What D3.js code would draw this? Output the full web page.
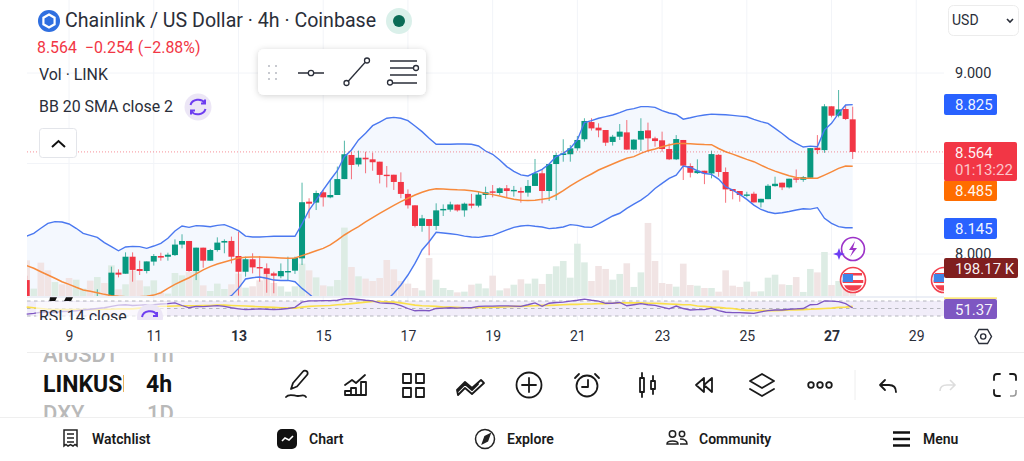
<!DOCTYPE html>
<html><head><meta charset="utf-8"><title>Chainlink / US Dollar</title>
<script src="https://d3js.org/d3.v7.min.js"></script>
<style>html,body{margin:0;padding:0;background:#fff;overflow:hidden}svg{display:block}text{font-family:Roboto,sans-serif}</style>
</head><body><svg id="c" width="1024" height="461"></svg>
<script>
const opens=[7.856,7.60,7.65,7.58,7.53,7.57,7.52,7.48,7.54,7.60,7.55,7.66,
7.64,7.897,7.891,7.985,7.917,7.906,7.958,7.989,7.985,7.994,8.052,8.072,7.906,8.035,7.963,8.022,8.063,8.072,7.989,7.902,7.971,7.928,7.921,7.893,7.877,7.904,7.908,7.976,8.289,8.284,8.341,8.313,8.326,8.414,8.547,8.495,8.532,8.523,8.510,8.438,8.438,8.398,8.332,8.269,8.155,8.193,8.155,8.241,8.245,8.273,8.241,8.278,8.267,8.326,8.346,8.337,8.363,8.352,8.348,8.339,8.376,8.446,8.348,8.497,8.547,8.551,8.584,8.634,8.729,8.698,8.685,8.619,8.648,8.672,8.577,8.632,8.683,8.639,8.628,8.580,8.523,8.630,8.486,8.447,8.460,8.445,8.548,8.453,8.359,8.348,8.327,8.333,8.285,8.303,8.375,8.394,8.368,8.418,8.410,8.421,8.587,8.574,8.816,8.764,8.801,8.744];
const highs=[7.88,7.68,7.70,7.62,7.60,7.62,7.58,7.56,7.62,7.66,7.805,7.74,
7.930,7.915,8.009,8.009,7.963,7.959,8.000,8.007,8.007,8.081,8.109,8.072,8.035,8.035,8.028,8.092,8.081,8.096,8.123,7.985,8.004,7.989,7.948,7.902,7.948,7.985,7.985,8.394,8.308,8.350,8.354,8.409,8.483,8.626,8.565,8.571,8.565,8.560,8.510,8.486,8.438,8.451,8.357,8.269,8.216,8.193,8.280,8.274,8.289,8.273,8.284,8.332,8.344,8.372,8.381,8.368,8.381,8.376,8.368,8.409,8.525,8.468,8.497,8.560,8.634,8.602,8.652,8.750,8.750,8.722,8.685,8.658,8.718,8.740,8.634,8.750,8.726,8.648,8.676,8.611,8.657,8.630,8.501,8.523,8.460,8.571,8.552,8.478,8.359,8.348,8.344,8.344,8.305,8.386,8.427,8.394,8.416,8.467,8.431,8.585,8.657,8.828,8.816,8.906,8.823,8.814];
const lows=[7.60,7.58,7.55,7.50,7.50,7.50,7.46,7.46,7.52,7.52,7.52,7.60,
7.62,7.871,7.891,7.847,7.884,7.893,7.936,7.963,7.963,7.989,8.031,7.902,7.856,7.924,7.963,8.013,8.004,7.948,7.770,7.875,7.893,7.847,7.786,7.783,7.866,7.856,7.890,7.939,8.197,8.243,8.262,8.308,8.326,8.413,8.413,8.483,8.446,8.460,8.390,8.368,8.354,8.308,8.251,8.147,8.123,7.993,8.133,8.210,8.234,8.234,8.206,8.252,8.258,8.304,8.313,8.326,8.313,8.317,8.284,8.317,8.376,8.280,8.293,8.298,8.510,8.510,8.571,8.621,8.682,8.645,8.597,8.599,8.630,8.575,8.575,8.569,8.565,8.593,8.565,8.519,8.519,8.409,8.423,8.442,8.386,8.418,8.427,8.283,8.302,8.289,8.313,8.285,8.257,8.303,8.372,8.353,8.362,8.394,8.399,8.421,8.552,8.559,8.755,8.755,8.740,8.525];
const closes=[7.62,7.65,7.58,7.53,7.57,7.52,7.48,7.54,7.60,7.55,7.66,7.64,
7.897,7.886,7.985,7.912,7.906,7.959,7.989,7.980,7.996,8.052,8.072,7.906,8.035,7.963,8.022,8.063,8.072,7.985,7.902,7.971,7.926,7.924,7.890,7.880,7.906,7.906,7.978,8.286,8.278,8.337,8.313,8.326,8.414,8.551,8.492,8.532,8.523,8.507,8.437,8.435,8.398,8.332,8.269,8.155,8.197,8.155,8.241,8.249,8.274,8.241,8.278,8.267,8.328,8.341,8.339,8.363,8.348,8.354,8.339,8.376,8.446,8.348,8.497,8.547,8.556,8.584,8.630,8.735,8.694,8.683,8.615,8.648,8.676,8.577,8.632,8.680,8.639,8.624,8.580,8.523,8.635,8.488,8.449,8.460,8.445,8.552,8.453,8.357,8.348,8.326,8.329,8.285,8.305,8.377,8.388,8.368,8.416,8.416,8.425,8.585,8.574,8.816,8.764,8.799,8.746,8.564];
const bbUpper=[8.099,8.114,8.142,8.169,8.179,8.177,8.166,8.142,8.114,8.103,8.092,8.063,8.041,8.018,8.039,8.042,8.041,8.031,8.044,8.059,8.087,8.127,8.155,8.147,8.157,8.155,8.151,8.158,8.162,8.147,8.129,8.099,8.094,8.094,8.096,8.098,8.098,8.098,8.098,8.166,8.243,8.298,8.354,8.409,8.460,8.538,8.575,8.630,8.667,8.709,8.729,8.750,8.755,8.750,8.737,8.707,8.676,8.639,8.606,8.606,8.606,8.608,8.608,8.606,8.597,8.569,8.551,8.519,8.483,8.457,8.437,8.431,8.449,8.468,8.497,8.538,8.556,8.584,8.630,8.726,8.737,8.750,8.759,8.768,8.781,8.796,8.803,8.814,8.814,8.810,8.792,8.779,8.771,8.745,8.753,8.762,8.768,8.773,8.771,8.769,8.766,8.762,8.758,8.744,8.731,8.722,8.694,8.666,8.635,8.611,8.591,8.596,8.593,8.685,8.722,8.777,8.823,8.825];
const bbBasis=[7.936,7.921,7.902,7.884,7.866,7.847,7.832,7.816,7.801,7.794,7.786,7.777,7.770,7.766,7.764,7.764,7.764,7.766,7.773,7.786,7.810,7.832,7.851,7.869,7.890,7.912,7.930,7.945,7.956,7.967,7.978,7.982,7.983,7.983,7.982,7.980,7.978,7.976,7.978,7.991,8.004,8.018,8.031,8.050,8.077,8.105,8.129,8.151,8.177,8.201,8.225,8.247,8.269,8.289,8.308,8.326,8.341,8.354,8.361,8.359,8.357,8.355,8.354,8.350,8.344,8.335,8.328,8.320,8.311,8.302,8.297,8.295,8.297,8.302,8.308,8.326,8.350,8.376,8.400,8.422,8.442,8.464,8.481,8.497,8.514,8.529,8.538,8.556,8.571,8.580,8.593,8.602,8.611,8.611,8.609,8.607,8.605,8.604,8.583,8.565,8.552,8.537,8.523,8.510,8.491,8.473,8.458,8.445,8.432,8.423,8.419,8.418,8.419,8.436,8.454,8.473,8.486,8.485];
const bbLower=[7.75,7.72,7.66,7.60,7.55,7.52,7.50,7.49,7.49,7.48,7.48,7.49,7.50,7.51,7.49,7.48,7.48,7.50,7.50,7.51,7.53,7.54,7.55,7.58,7.62,7.67,7.71,7.73,7.75,7.770,7.810,7.862,7.869,7.873,7.866,7.856,7.854,7.854,7.847,7.810,7.779,7.746,7.72,7.69,7.66,7.62,7.64,7.66,7.68,7.70,7.72,7.745,7.783,7.829,7.884,7.948,8.022,8.068,8.120,8.116,8.112,8.107,8.099,8.094,8.092,8.098,8.103,8.118,8.133,8.147,8.155,8.158,8.153,8.149,8.140,8.144,8.149,8.162,8.158,8.149,8.147,8.166,8.188,8.210,8.225,8.252,8.276,8.298,8.326,8.362,8.390,8.418,8.436,8.486,8.478,8.460,8.445,8.440,8.414,8.372,8.353,8.329,8.302,8.270,8.246,8.232,8.224,8.228,8.235,8.243,8.250,8.248,8.256,8.197,8.169,8.151,8.145,8.145];
const volumeK=[442,91,413,318,173,145,223,202,91,190,235,161,380,83,145,318,194,120,194,41,29,285,256,297,318,132,62,153,87,145,277,103,120,194,277,161,120,54,120,401,318,231,132,120,198,847,359,244,215,186,223,446,330,186,153,99,70,471,202,99,74,45,54,140,153,95,252,70,95,140,207,153,215,149,273,368,434,227,648,417,186,372,335,202,273,405,112,293,905,434,161,149,116,401,136,128,99,99,54,318,128,112,178,54,58,227,264,145,136,235,50,335,293,545,136,186,227,198.17];
const rsi=[35,37,40,40,40,42,42.6,44,46,48,50,52,55.6,59,60,58,59,60,60,62,63,65,58,52,55.6,55,56.5,57.4,55.6,52,49,47,48,49,48,47,48,50,53,67,70.5,70.5,71,71,72,76,76,74,72,70.5,65,64,63,57.4,50,44,45,44,50,51,52,51,52,52,55.6,56.5,56.5,57,57,56.5,55.6,60,65,55.6,64,66,67,69.5,72,75,72,69.5,64,64,66,57.4,60,63,60,58.4,53.7,49,56.5,50,46,47,47,51,44.4,40,39,39,38,37,41,44.4,46,46,48,49,50,60,61,70.5,69.5,68.6,63,51.37];
const rsiMA=[53.7,52,50,48,47,47,47,47,47,47,47,48,48,49,49,49,51,53,54,56,56,56.5,57.4,57.4,57.4,58,58,59,59,58,57.4,56.5,55.6,54.6,53.7,53,52,51,51,53.7,55.6,56.5,57.4,58,60,61,63,65,67,68.6,68.6,67.7,67,65,62,59,57.4,56.5,55.6,53.7,53.7,53,52,52,53,53,53.7,53.7,54.6,55.6,55.6,56.5,57.4,58.4,58.4,59,60,61,61,62,62,63,63,64,65,65,65,65,64,64,63,62,61,60,60,56.5,55.6,53.7,53,51,50,47,45,45,44.4,44.4,44.4,45,46.3,46.3,47,48,49,50,51,53,53.7,55.6];
const dayLabels=[9,11,13,15,17,19,21,23,25,27,29];
const boldDays=[13,27];
const gridPrices=[9,8.5,8];
const priceLabels=[9,8];
const lastPrice=8.564;

const svg=d3.select('#c');
const defs=svg.append('defs');
defs.append('clipPath').attr('id','main').append('rect').attr('x',27).attr('y',40).attr('width',917).attr('height',256);
defs.append('clipPath').attr('id','legendClip').append('rect').attr('x',27).attr('y',298).attr('width',300).attr('height',22);
defs.append('clipPath').attr('id','topList').append('rect').attr('x',30).attr('y',353).attr('width',170).attr('height',22);
defs.append('clipPath').attr('id','midList').append('rect').attr('x',30).attr('y',370).attr('width',94).attr('height',30);
defs.append('clipPath').attr('id','botList').append('rect').attr('x',30).attr('y',400).attr('width',170).attr('height',17);
defs.append('clipPath').attr('id','flagClip').append('rect').attr('x',900).attr('y',250).attr('width',44).attr('height',60);
const f=defs.append('filter').attr('id','sh').attr('x','-20%').attr('y','-30%').attr('width','140%').attr('height','170%');
f.append('feDropShadow').attr('dx',0).attr('dy',1).attr('stdDeviation',3).attr('flood-color','#000').attr('flood-opacity',.18);

const N=closes.length;
const x=d3.scaleLinear().domain([0,N-1]).range([26.7,852.7]);
const y=d3.scaleLinear().domain([8,9]).range([254,73]);
const yVol=d3.scaleLinear().domain([0,1000]).range([296,215.3]);
const yRsi=d3.scaleLinear().domain([30,70]).range([316,301]);
const dayIndex=d=>114-(27-d)*6;
const UP='#089981',DOWN='#f23645',INK='#2a2e39';

// grid
const grid=svg.append('g').attr('stroke','#f2f4f8');
grid.selectAll('line.v').data(dayLabels).join('line').attr('x1',d=>x(dayIndex(d))).attr('x2',d=>x(dayIndex(d))).attr('y1',0).attr('y2',320);
grid.selectAll('line.h').data(gridPrices).join('line').attr('x1',27).attr('x2',944).attr('y1',d=>y(d)).attr('y2',d=>y(d));

const pane=svg.append('g').attr('clip-path','url(#main)');
const idx=d3.range(N);
// band
pane.append('path').attr('fill','#f4f8fe').attr('d',d3.area().x(i=>x(i)).y0(i=>y(bbLower[i])).y1(i=>y(bbUpper[i]))(idx));
// volume
pane.selectAll('rect.vol').data(idx).join('rect').attr('class','vol').attr('x',i=>x(i)-3.3).attr('width',6.6)
 .attr('y',i=>yVol(volumeK[i])).attr('height',i=>yVol(0)-yVol(volumeK[i]))
 .attr('fill',i=>closes[i]>=opens[i]?'#dbebe3':'#f0e3e3').attr('fill-opacity',.95);
// candles
const col=i=>closes[i]>=opens[i]?UP:DOWN;
pane.selectAll('line.wick').data(idx).join('line').attr('class','wick').attr('x1',i=>x(i)).attr('x2',i=>x(i))
 .attr('y1',i=>y(highs[i])).attr('y2',i=>y(lows[i])).attr('stroke',col).attr('stroke-width',1).attr('stroke-opacity',.7);
pane.selectAll('rect.body').data(idx).join('rect').attr('class','body').attr('x',i=>x(i)-3).attr('width',6)
 .attr('y',i=>y(Math.max(opens[i],closes[i]))).attr('height',i=>Math.max(1.4,Math.abs(y(opens[i])-y(closes[i])))).attr('fill',col);
// bb lines
const ln=a=>d3.line().x(i=>x(i)).y(i=>a[i]).curve(d3.curveLinear);
const ys=arr=>arr.map(y);
pane.append('path').attr('fill','none').attr('stroke','#4a78f0').attr('stroke-width',1.4).attr('d',ln(ys(bbUpper))(idx));
pane.append('path').attr('fill','none').attr('stroke','#4a78f0').attr('stroke-width',1.4).attr('d',ln(ys(bbLower))(idx));
pane.append('path').attr('fill','none').attr('stroke','#f78a3c').attr('stroke-width',1.5).attr('d',ln(ys(bbBasis))(idx));
// last price line
svg.append('line').attr('x1',27).attr('x2',944).attr('y1',y(lastPrice)).attr('y2',y(lastPrice)).attr('stroke','#f23645').attr('stroke-opacity',.55).attr('stroke-dasharray','1 2');
// pane separator
svg.append('line').attr('x1',27).attr('x2',944).attr('y1',297).attr('y2',297).attr('stroke','#d9dfee').attr('stroke-width',1.2);

// RSI pane
svg.append('rect').attr('x',27).attr('y',yRsi(70)).attr('width',917).attr('height',yRsi(30)-yRsi(70)).attr('fill','#f1edf9');
svg.selectAll('line.rs').data([70,50,30]).join('line').attr('x1',27).attr('x2',944).attr('y1',d=>yRsi(d)).attr('y2',d=>yRsi(d)).attr('stroke','#b4b5bd').attr('stroke-dasharray','3.5 3.5');
svg.append('path').attr('fill','none').attr('stroke','#fbe04a').attr('stroke-width',1.6).attr('d',ln(rsiMA.map(yRsi))(idx));
svg.append('path').attr('fill','none').attr('stroke','#7e57c2').attr('stroke-width',1.3).attr('d',ln(rsi.map(yRsi))(idx));

// clipped bits of collapsed legend
svg.append('path').attr('fill','#111').attr('d','M50 297.3H57L55.2 301H49.3ZM66 297.3H73L71 301H64Z');
const lg=svg.append('g').attr('clip-path','url(#legendClip)');
lg.append('rect').attr('x',36).attr('y',302).attr('width',131).attr('height',18).attr('fill','#fff').attr('fill-opacity',.62);
lg.append('text').attr('x',39).attr('y',322).attr('font-size',16).attr('fill',INK).text('RSI 14 close');
lg.append('circle').attr('cx',150).attr('cy',317).attr('r',13).attr('fill','#ece6f6');
lg.append('path').attr('fill','none').attr('stroke','#6d3df0').attr('stroke-width',2).attr('d','M142 317a8 7 0 0 1 15-2M157 312v4h-4');

// axes
const xAxis=d3.axisBottom(x).tickValues(dayLabels.map(dayIndex)).tickSize(0).tickPadding(0)
  .tickFormat(i=>String(27-(114-i)/6));
const gx=svg.append('g').call(xAxis);
gx.select('.domain').remove();
gx.selectAll('text').attr('font-size',14).attr('fill',INK).attr('font-family','Roboto,sans-serif').attr('dy','.72em')
  .attr('font-weight',function(i){return boldDays.includes(27-(114-i)/6)?700:400});
gx.attr('transform','translate(0,331)');
const yAxis=d3.axisRight(y).tickValues(priceLabels).tickSize(0).tickPadding(0).tickFormat(d3.format('.3f'));
const gy=svg.append('g').attr('transform','translate(955,0)').call(yAxis);
gy.select('.domain').remove();
gy.selectAll('text').attr('font-size',14.5).attr('fill',INK).attr('font-family','Roboto,sans-serif');

// event icons
svg.append('circle').attr('cx',853).attr('cy',249).attr('r',11.5).attr('fill','#fff').attr('stroke','#9c33c8').attr('stroke-width',1.6);
svg.append('path').attr('fill','#9c33c8').attr('d','M855 241l-6 9h4l-3 7 7-9h-4z');
svg.append('path').attr('fill','#6c3df4').attr('d','M839 248l1.6 4.4 4.4 1.6-4.4 1.6-1.6 4.4-1.6-4.4-4.4-1.6 4.4-1.6z');
function flag(g,cx,cy){
 g.append('circle').attr('cx',cx).attr('cy',cy).attr('r',12.5).attr('fill','#fff').attr('stroke','#f2404e').attr('stroke-width',1.6);
 g.append('path').attr('fill','#f2404e').attr('d',`M${cx-9} ${cy-7}h18v2.6h-18zM${cx-10.3} ${cy}h20.6v3h-20.6zM${cx-9} ${cy+5.2}h18a10 10 0 0 1-18 0z`);
 g.append('path').attr('fill','#3f85e8').attr('d',`M${cx-10.3} ${cy-6}h10.3v8h-10.3z`);
}
flag(svg,853,280);
flag(svg.append('g').attr('clip-path','url(#flagClip)'),944,280);

// price labels
function lab(x0,y0,w,h,fill,t,ty){
 svg.append('rect').attr('x',x0).attr('y',y0).attr('width',w).attr('height',h).attr('rx',2).attr('fill',fill);
 svg.append('text').attr('x',955).attr('y',ty).attr('font-size',15).attr('fill','#fff').attr('fill-opacity',.95).text(t);
}
lab(944,94,53,21,'#2962ff','8.825',110);
lab(944,180,53,21,'#ff6d00','8.485',196);
lab(944,142,73,39,'#f23645','8.564',158);
svg.append('text').attr('x',955).attr('y',175).attr('font-size',15).attr('fill','#fff').attr('fill-opacity',.72).text('01:13:22');
lab(944,218,53,21,'#2962ff','8.145',234);
lab(944,258,74,20,'#801f1f','198.17 K',274);
svg.append('rect').attr('x',944).attr('y',297.5).attr('width',53).attr('height',1.2).attr('fill','#fbe04a');
lab(944,299,53,20,'#7e57c2','51.37',315);

// header
const bl='#2f6fe0';
svg.append('circle').attr('cx',49).attr('cy',21).attr('r',11).attr('fill',bl);
svg.append('path').attr('fill','none').attr('stroke','#fff').attr('stroke-width',2.2).attr('d','M49 14.5l5.6 3.2v6.6L49 27.5l-5.6-3.2v-6.6z');
svg.append('text').attr('x',65).attr('y',27).attr('font-size',19.6).attr('fill',INK).text('Chainlink / US Dollar · 4h · Coinbase');
svg.append('circle').attr('cx',399).attr('cy',21).attr('r',13).attr('fill','#daf0ea');
svg.append('circle').attr('cx',399).attr('cy',21).attr('r',6).attr('fill','#0a6b56');
svg.append('text').attr('x',37).attr('y',53).attr('font-size',15.9).attr('fill',DOWN).attr('xml:space','preserve').text('8.564  −0.254 (−2.88%)');
svg.append('text').attr('x',39).attr('y',80).attr('font-size',15.9).attr('fill',INK).text('Vol · LINK');
svg.append('text').attr('x',39).attr('y',112).attr('font-size',15.9).attr('fill',INK).text('BB 20 SMA close 2');
svg.append('circle').attr('cx',198).attr('cy',107).attr('r',13.5).attr('fill','#ece6f6');
svg.append('path').attr('fill','none').attr('stroke','#6d3df0').attr('stroke-width',2).attr('d','M190.5 105a8 7 0 0 1 14.5-2M205 99.5v4h-4M205.5 109a8 7 0 0 1-14.5 2M191 114.5v-4h4');
svg.append('rect').attr('x',39.5).attr('y',128.5).attr('width',37).attr('height',29).attr('rx',3).attr('fill','#fff').attr('stroke','#e3e5ea');
svg.append('path').attr('fill','none').attr('stroke','#111').attr('stroke-width',2).attr('d','M52 147l6.5-6 6.5 6');

// USD
svg.append('rect').attr('x',948.5).attr('y',5.5).attr('width',70).attr('height',30).attr('rx',5).attr('fill','#fff').attr('stroke','#ececec');
svg.append('text').attr('x',952).attr('y',25).attr('font-size',14).attr('fill',INK).text('USD');
svg.append('path').attr('fill','none').attr('stroke','#2a2e39').attr('stroke-width',1.6).attr('d','M1007 19l3 3 3-3');

// floating toolbar
svg.append('rect').attr('x',258).attr('y',49).attr('width',168).attr('height',46).attr('rx',6).attr('fill','#fff').attr('filter','url(#sh)');
const tb=svg.append('g').attr('fill','none').attr('stroke','#2a2e39').attr('stroke-width',1.3);
svg.append('g').attr('fill','#c8cad0').selectAll('rect').data(d3.cross([268,275],[65,72,78])).join('rect').attr('x',d=>d[0]).attr('y',d=>d[1]).attr('width',2).attr('height',2);
tb.append('path').attr('d','M298 73h10M314 73h10');
tb.append('circle').attr('cx',311).attr('cy',73).attr('r',2.7);
tb.append('path').attr('d','M348 81.5L365 62.5');
tb.append('circle').attr('cx',346.5).attr('cy',83).attr('r',2.5);
tb.append('circle').attr('cx',367).attr('cy',60.5).attr('r',2.5);
tb.append('path').attr('d','M390 61h27M390 68h23M390 75h27M393 83h24');
tb.append('circle').attr('cx',416).attr('cy',68).attr('r',2.5);
tb.append('circle').attr('cx',390).attr('cy',82.5).attr('r',2.5);

// divider + list
svg.append('line').attr('x1',27).attr('x2',1024).attr('y1',352.5).attr('y2',352.5).attr('stroke','#eeeeee');
const g1=svg.append('g').attr('clip-path','url(#topList)');
g1.append('text').attr('x',43).attr('y',361.5).attr('font-size',22).attr('fill','#b9b9b9').attr('font-weight',500).text('AIUSDT');
g1.append('text').attr('x',149).attr('y',361.5).attr('font-size',22).attr('fill','#b9b9b9').attr('font-weight',500).text('1h');
const g2=svg.append('g').attr('clip-path','url(#midList)');
g2.append('text').attr('x',43).attr('y',392).attr('font-size',23).attr('fill','#111').attr('font-weight',700).text('LINKUSD');
svg.append('text').attr('x',146).attr('y',392).attr('font-size',23).attr('fill','#111').attr('font-weight',700).text('4h');
const g3=svg.append('g').attr('clip-path','url(#botList)');
g3.append('text').attr('x',43).attr('y',421).attr('font-size',22).attr('fill','#b9b9b9').attr('font-weight',500).text('DXY');
g3.append('text').attr('x',147).attr('y',421).attr('font-size',22).attr('fill','#b9b9b9').attr('font-weight',500).text('1D');
svg.append('line').attr('x1',0).attr('x2',1024).attr('y1',417.5).attr('y2',417.5).attr('stroke','#efefef');

// main toolbar icons
const ic=svg.append('g').attr('fill','none').attr('stroke','#1a1a1a').attr('stroke-width',1.8).attr('stroke-linejoin','round').attr('stroke-linecap','round');
ic.append('path').attr('d','M291 389l2-6 10-11.5a2.5 2.5 0 0 1 4 3.5l-10 11.5zM286 397c3-4 8-1 12-1s6-2 8 1');
ic.append('path').attr('d','M345 395h21v-13h-5v13M351 395v-7h5v7M345 395v-4h6M345 385l7-5 4 3 9-8');
ic.append('path').attr('d','M403 374h8v9h-8zM416 374h8v9h-8zM403 388h8v9h-8zM416 388h8v9h-8z');
ic.append('path').attr('d','M458 391l7-7 7 6 6-6M458 395l7-7 7 6 12-11-3-3-9 8-7-6-8 8z');
ic.append('circle').attr('cx',529).attr('cy',385).attr('r',12.5);
ic.append('path').attr('d','M529 378v14M522 385h14');
ic.append('circle').attr('cx',587).attr('cy',386).attr('r',10.5);
ic.append('path').attr('d','M588 380v7h-6M575 378l4-4M599 378l-4-4');
ic.append('path').attr('d','M640 378h4v14h-4zM642 373v5M642 392v5M651 381h4v8h-4zM653 376v5M653 389v5');
ic.append('path').attr('d','M704 378l-8 7 8 7zM712 378l-8 7 8 7z');
ic.append('path').attr('d','M762 374l12 7-12 7-12-7zM750 389l12 7 12-7');
ic.selectAll('circle.dot').data([811,820,829]).join('circle').attr('cx',d=>d).attr('cy',385).attr('r',2.8);
svg.append('line').attr('x1',855).attr('x2',855).attr('y1',370).attr('y2',400).attr('stroke','#eeeeee');
ic.append('path').attr('d','M880 385h9c4 0 7 2 7 7M885 380l-5 5 5 5');
svg.append('path').attr('fill','none').attr('stroke','#ddd').attr('stroke-width',1.6).attr('d','M940 391c0-4 3-6 7-6h8M950 380l5 5-5 5');
ic.append('path').attr('d','M994 380v-3a3 3 0 0 1 3-3h3M1010 374h3a3 3 0 0 1 3 3v3M994 390v3a3 3 0 0 0 3 3h3');
svg.append('path').attr('fill','none').attr('stroke','#999').attr('stroke-width',1.6).attr('d','M1010 396h3a3 3 0 0 0 3-3v-3');
// hexagon
svg.append('path').attr('fill','none').attr('stroke','#2a2e39').attr('stroke-width',1.4).attr('d','M979 329.5h8.5l4 7-4 7H979l-4-7z');
svg.append('circle').attr('cx',983.2).attr('cy',336.5).attr('r',2.6).attr('fill','none').attr('stroke','#2a2e39').attr('stroke-width',1.4);

// bottom nav
const nav=[['Watchlist',92],['Chart',309],['Explore',507],['Community',699],['Menu',923]];
svg.selectAll('text.nav').data(nav).join('text').attr('class','nav').attr('x',d=>d[1]).attr('y',444).attr('font-size',14).attr('font-weight',600).attr('fill','#1a1a1a').text(d=>d[0]);
const ni=svg.append('g').attr('fill','none').attr('stroke','#222').attr('stroke-width',1.5);
ni.append('path').attr('d','M64 430h13v16l-2-1.5-2 1.5-2.5-1.5-2.5 1.5-2-1.5-2 1.5zM67 434h7M67 438h7M67 442h7');
svg.append('rect').attr('x',277).attr('y',429).attr('width',20).attr('height',20).attr('rx',5).attr('fill','#111');
svg.append('path').attr('fill','none').attr('stroke','#fff').attr('stroke-width',1.6).attr('d','M282 441l3-3 4 2 4-4');
ni.append('circle').attr('cx',485).attr('cy',439).attr('r',9.5);
ni.append('path').attr('fill','#222').attr('d','M490 434l-2.5 7-5 2.5 2.5-7z');
ni.append('circle').attr('cx',672.5).attr('cy',434).attr('r',3.2);
ni.append('circle').attr('cx',682).attr('cy',434).attr('r',2.7);
ni.append('path').attr('d','M667 444c0-4 11-4 11 0zM680 439c4 0 7 1 7 5h-7');
svg.append('path').attr('stroke','#111').attr('stroke-width',2.4).attr('d','M893 432.5h17M893 439h17M893 445.5h17');
</script></body></html>
